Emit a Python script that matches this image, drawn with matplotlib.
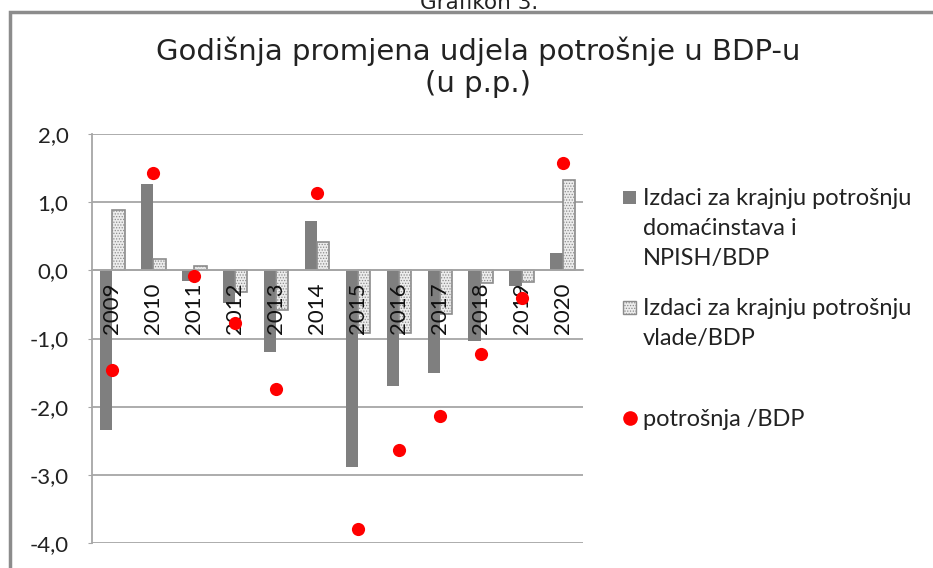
import numpy as np
import matplotlib
matplotlib.use("Agg")
import matplotlib.pyplot as plt
from matplotlib.patches import Rectangle
from matplotlib.lines import Line2D

years = ["2009", "2010", "2011", "2012", "2013", "2014",
         "2015", "2016", "2017", "2018", "2019", "2020"]
households = [-2.34, 1.27, -0.15, -0.48, -1.20, 0.73,
              -2.89, -1.70, -1.50, -1.03, -0.23, 0.26]
government = [0.88, 0.16, 0.06, -0.32, -0.58, 0.41,
              -0.92, -0.92, -0.64, -0.19, -0.17, 1.33]
consumption = [-1.46, 1.43, -0.08, -0.77, -1.74, 1.13,
               -3.80, -2.63, -2.13, -1.23, -0.41, 1.58]
yticks = [-4, -3, -2, -1, 0, 1, 2]
ytick_labels = ["-4,0", "-3,0", "-2,0", "-1,0", "0,0", "1,0", "2,0"]
labels = ["Izdaci za krajnju potrošnju\ndomaćinstava i\nNPISH/BDP",
          "Izdaci za krajnju potrošnju\nvlade/BDP",
          "potrošnja /BDP"]
title = "Godišnja promjena udjela potrošnje u BDP-u\n(u p.p.)"

W, H = 933, 568
plt.rcParams["hatch.linewidth"] = 0.6
fig = plt.figure(figsize=(W / 100, H / 100), dpi=100)
ax = fig.add_axes([92 / W, 1 - 543 / H, (583 - 92) / W, (543 - 134) / H])

dark = "#7f7f7f"
grid = "#a6a6a6"
x = np.arange(len(years))
bw = 0.3

ax.bar(x - bw / 2, households, bw, color=dark, zorder=2)
ax.bar(x + bw / 2, government, bw, facecolor="#ececec", edgecolor="#8c8c8c",
       hatch="......", linewidth=1.2, zorder=2)
ax.scatter(x, consumption, s=90, color="#ff0000", zorder=4, linewidths=0)

for s in ["top", "right"]:
    ax.spines[s].set_visible(False)
ax.spines["left"].set_color(grid)
ax.spines["left"].set_linewidth(1.3)
ax.spines["bottom"].set_position(("data", 0))
ax.spines["bottom"].set_color(grid)
ax.spines["bottom"].set_linewidth(1.3)

ax.set_xlim(-0.5, len(years) - 0.5)
ax.set_ylim(-4, 2)
ax.set_yticks(yticks)
ax.set_yticklabels(ytick_labels)
ax.set_xticks(x)
ax.set_xticklabels(years)
ax.yaxis.grid(True, color=grid, linewidth=1.3)
ax.yaxis.set_zorder(0.5)
ax.xaxis.set_zorder(3)

ax.tick_params(axis="y", length=3, color=grid, pad=14, labelsize=16,
               labelcolor="#222222")
ax.tick_params(axis="x", length=0, pad=9, labelsize=16, labelcolor="#111111",
               labelrotation=90)
for t in ax.get_xticklabels() + ax.get_yticklabels():
    t.set_fontfamily("Lato")
for t in ax.get_xticklabels():
    t.set_verticalalignment("top")

fig.text(478 / W, 1 - 37 / H, title, ha="center", va="top",
         fontsize=21, family="DejaVu Sans", color="#222222", linespacing=1.15)
fig.text(479 / W, 1 - 9 / H, "Grafikon 3.", ha="center", va="baseline",
         fontsize=15.5, family="DejaVu Sans", color="#222222")

# figure frame (left and top edges visible)
fig.add_artist(Rectangle((10 / W, -0.1), 1.2, 1.1 - 12 / H,
                         transform=fig.transFigure, fill=False,
                         edgecolor="#8c8c8c", linewidth=2.5))

# legend
tx = 643 / W
fig.add_artist(Rectangle((623 / W, 1 - 204 / H), 13 / W, 13 / H,
                         transform=fig.transFigure, facecolor=dark,
                         edgecolor="none"))
fig.add_artist(Rectangle((623 / W, 1 - 314 / H), 13 / W, 13 / H,
                         transform=fig.transFigure, facecolor="#ececec",
                         edgecolor="#8c8c8c", hatch="......", linewidth=1))
fig.add_artist(Line2D([630 / W], [1 - 418 / H], transform=fig.transFigure,
                      marker="o", markersize=9.5, color="#ff0000",
                      linestyle="none"))
for lab, ytop in zip(labels, [188, 298, 409]):
    fig.text(tx, 1 - ytop / H, lab, ha="left", va="top", fontsize=17,
             family="Lato", color="#222222", linespacing=1.52)

fig.savefig("out.png", dpi=100)
